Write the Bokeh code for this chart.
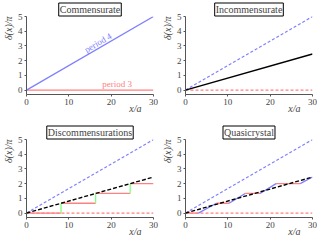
import math
from bokeh.plotting import figure
from bokeh.layouts import gridplot
from bokeh.models import Label, FixedTicker, Range1d, Title
from bokeh.embed import file_html
from bokeh.resources import INLINE

# ---- data ----
x_line = [0, 30]
period4_y = [0, 5]
period3_y = [0, 0]
incomm_y = [0, 2.45]

# discommensurations: flat (red) segments and jumps (green)
disc_x0 = [0, 8.16, 16.33, 24.49]
disc_x1 = [8.16, 16.33, 24.49, 30]
disc_y = [0, 0.667, 1.333, 2.0]
jump_x = [0, 8.16, 16.33, 24.49]
jump_y0 = [-0.667, 0, 0.667, 1.333]
jump_y1 = [0, 0.667, 1.333, 2.0]

# quasicrystal: flat (red) segments and ramps (blue)
qc_flat_x0 = [0, 7.3, 14.1, 21.4]
qc_flat_x1 = [3.05, 10.3, 17.6, 27.1]
qc_flat_y = [0, 0.667, 1.333, 2.0]
qc_ramp_x0 = [3.05, 10.3, 17.6, 27.1]
qc_ramp_x1 = [7.3, 14.1, 21.4, 30]
qc_ramp_y0 = [0, 0.667, 1.333, 2.0]
qc_ramp_y1 = [0.667, 1.333, 2.0, 2.45]

x_ticks = [0, 10, 20, 30]
y_ticks = [0, 1, 2, 3, 4, 5]
titles = ["Commensurate", "Incommensurate", "Discommensurations", "Quasicrystal"]

BLUE = "#8080ff"
RED = "#ff8080"
GREEN = "#80ff80"
AX = "#555555"
SERIF = "Liberation Serif"

FW, FH = 127, 78
YMIN, YMAX = -0.3, 5.0


def panel(title, top, bottom, left, right):
    p = figure(frame_width=FW, frame_height=FH, min_border_top=top,
               min_border_bottom=bottom, min_border_left=left,
               min_border_right=right, output_backend="svg",
               toolbar_location=None, x_range=Range1d(0, 30),
               y_range=Range1d(YMIN, YMAX))
    p.outline_line_color = None
    p.grid.visible = False
    for ax in (p.xaxis[0], p.yaxis[0]):
        ax.axis_line_color = AX
        ax.major_tick_line_color = AX
        ax.minor_tick_line_color = None
        ax.major_tick_out = 2
        ax.major_tick_in = 0
        ax.major_label_standoff = 2
        ax.major_label_text_font = SERIF
        ax.major_label_text_font_size = "9px"
        ax.major_label_text_color = "#444444"
    p.xaxis.ticker = FixedTicker(ticks=x_ticks)
    p.yaxis.ticker = FixedTicker(ticks=y_ticks)
    p.title.text = title
    p.title.align = "center"
    p.title.text_font = SERIF
    p.title.text_font_size = "10px"
    p.title.text_font_style = "normal"
    p.title.border_line_color = "black"
    p.title.border_line_width = 1
    p.title.background_fill_color = "white"
    p.title.padding = 1
    p.title.standoff = 1
    p.title.offset = 0
    ylab = Title(text="δ(x)/π", align="right", text_font=SERIF,
                 text_font_style="italic", text_font_size="10px",
                 text_color="#444444", standoff=1, offset=0)
    p.add_layout(ylab, "left")
    xlab = Title(text="x/a", align="right", vertical_align="bottom",
                 text_font=SERIF, text_font_style="italic",
                 text_font_size="10px", text_color="#444444",
                 standoff=-13, offset=12)
    p.add_layout(xlab, "below")
    return p


p1 = panel(titles[0], 12, 29, 20, 6)
p2 = panel(titles[1], 12, 29, 22, 5)
p3 = panel(titles[2], 12, 21, 20, 6)
p4 = panel(titles[3], 12, 21, 22, 5)

# Commensurate
p1.line(x_line, period3_y, line_color=RED, line_width=1.3)
p1.line(x_line, period4_y, line_color=BLUE, line_width=1.3)
ang = math.atan((5 / 30) * (FH / (YMAX - YMIN)) / (FW / 30))
p1.add_layout(Label(x=17.5, y=17.5 / 6, angle=ang, text="period 4",
                    text_align="center", text_baseline="bottom",
                    text_font=SERIF, text_font_size="9px", text_color=BLUE))
p1.add_layout(Label(x=21.4, y=0, y_offset=1, text="period 3",
                    text_align="center", text_baseline="bottom",
                    text_font=SERIF, text_font_size="9px", text_color=RED))

# Incommensurate
p2.line(x_line, period3_y, line_color=RED, line_width=1.2, line_dash="3 2")
p2.line(x_line, period4_y, line_color=BLUE, line_width=1.2, line_dash="3 2")
p2.line(x_line, incomm_y, line_color="black", line_width=1.4)

# Discommensurations
p3.line(x_line, period3_y, line_color=RED, line_width=1.2, line_dash="3 2")
p3.line(x_line, period4_y, line_color=BLUE, line_width=1.2, line_dash="3 2")
p3.segment(disc_x0, disc_y, disc_x1, disc_y, line_color=RED, line_width=1.3)
p3.segment(jump_x, jump_y0, jump_x, jump_y1, line_color=GREEN, line_width=1.3)
p3.line(x_line, incomm_y, line_color="black", line_width=1.4, line_dash="4 2")

# Quasicrystal
p4.line(x_line, period3_y, line_color=RED, line_width=1.2, line_dash="3 2")
p4.line(x_line, period4_y, line_color=BLUE, line_width=1.2, line_dash="3 2")
p4.segment(qc_flat_x0, qc_flat_y, qc_flat_x1, qc_flat_y, line_color=RED, line_width=1.3)
p4.segment(qc_ramp_x0, qc_ramp_y0, qc_ramp_x1, qc_ramp_y1, line_color=BLUE, line_width=1.3)
p4.line(x_line, incomm_y, line_color="black", line_width=1.4, line_dash="4 2")

grid = gridplot([[p1, p2], [p3, p4]], toolbar_location=None)
open("out.html", "w").write(file_html(grid, INLINE))
